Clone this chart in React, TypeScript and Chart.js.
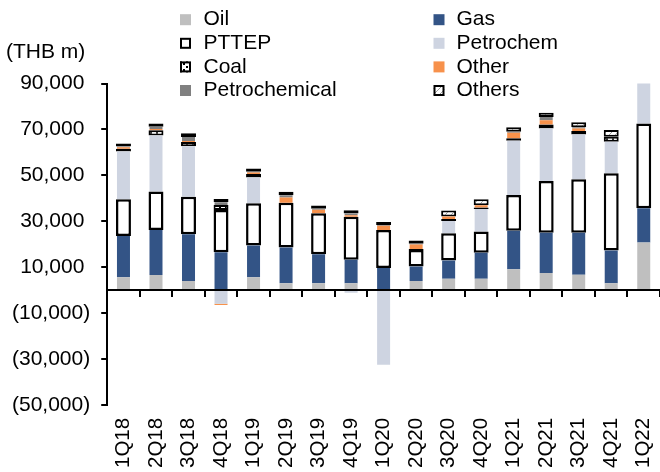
import React, { useEffect, useRef } from "react";
import { Chart, registerables } from "chart.js";

Chart.register(...registerables);

// ---------- data (THB m) ----------
const categories = [
  "1Q18", "2Q18", "3Q18", "4Q18", "1Q19", "2Q19", "3Q19", "4Q19", "1Q20",
  "2Q20", "3Q20", "4Q20", "1Q21", "2Q21", "3Q21", "4Q21", "1Q22",
];
const oil = [5600, 6600, 4000, 0, 5600, 3000, 3000, 3000, 0, 4000, 4900, 4900, 9100, 7400, 6700, 3000, 20700];
const gas = [18000, 19600, 20300, 16500, 13800, 15500, 12600, 10200, 9600, 6300, 8000, 11400, 16800, 17600, 18300, 14200, 15000];
const pttep = [16000, 16700, 16400, 18400, 18400, 19600, 17900, 18800, 16600, 7200, 11900, 9200, 15500, 22500, 23300, 33700, 36900];
const petrochem = [20800, 24500, 22000, -6000, 11200, 0, 0, -1200, -32500, 0, 5300, 9800, 23700, 22900, 19500, 13700, 22000];
const coal = [1200, 2200, 1800, 2200, 1600, 0, 0, 0, 0, 400, 900, 700, 1000, 1700, 1500, 2200, 0];
const other = [600, 600, 500, -500, 600, 2200, 1500, 600, 1800, 2000, 1100, 1000, 2400, 1900, 1100, 0, -300];
const petrochemical = [300, 1000, 1700, 1200, 300, 1000, 400, 800, 300, 300, 0, 0, 500, 1400, 500, 0, 0];
const others = [1400, 1400, 1600, 1400, 1500, 1500, 1500, 1400, 1400, 1400, 2600, 2600, 1900, 1900, 2200, 2900, 0];

const yMin = -50000;
const yMax = 90000;
const yStep = 20000;
const unitLabel = "(THB m)";

const FONT = "'Liberation Sans', Arial, Helvetica, sans-serif";

function makeCoalPattern(): CanvasPattern | string {
  const c = document.createElement("canvas");
  c.width = 6;
  c.height = 6;
  const g = c.getContext("2d");
  if (!g) return "#ffffff";
  g.fillStyle = "#ffffff";
  g.fillRect(0, 0, 6, 6);
  g.fillStyle = "#000000";
  g.fillRect(0, 0, 2, 2);
  g.fillRect(3, 3, 2, 2);
  const p = g.createPattern(c, "repeat");
  return p || "#ffffff";
}

function makeOthersPattern(): CanvasPattern | string {
  const c = document.createElement("canvas");
  c.width = 6;
  c.height = 6;
  const g = c.getContext("2d");
  if (!g) return "#ffffff";
  g.fillStyle = "#ffffff";
  g.fillRect(0, 0, 6, 6);
  g.strokeStyle = "#9a9a9a";
  g.lineWidth = 1;
  g.beginPath();
  g.moveTo(0, 6);
  g.lineTo(6, 0);
  g.stroke();
  const p = g.createPattern(c, "repeat");
  return p || "#ffffff";
}

function fmtNum(v: number): string {
  return Math.abs(v).toLocaleString("en-US");
}

const legendPlugin = {
  id: "customLegend",
  afterDraw(chart: any) {
    const ctx = chart.ctx as CanvasRenderingContext2D;
    ctx.save();
    // unit label
    ctx.font = `21px ${FONT}`;
    ctx.fillStyle = "#000";
    ctx.textAlign = "left";
    ctx.textBaseline = "alphabetic";
    ctx.fillText(unitLabel, 6, 58);

    const colMarkerX = [180, 433.5];
    const colTextX = [203.5, 456.5];
    const rowY0 = 19.7;
    const rowStep = 23.6;
    const size = 11;
    chart.data.datasets.forEach((ds: any, i: number) => {
      const col = i % 2;
      const row = Math.floor(i / 2);
      const cy = rowY0 + row * rowStep;
      const mx = colMarkerX[col];
      const my = cy - size / 2;
      ctx.fillStyle = ds.backgroundColor;
      ctx.fillRect(mx, my, size, size);
      if (ds.borderWidth && ds.borderWidth > 0) {
        ctx.strokeStyle = "#000";
        ctx.lineWidth = 2;
        ctx.strokeRect(mx + 1, my + 1, size - 2, size - 2);
      }
      ctx.fillStyle = "#000";
      ctx.font = `21px ${FONT}`;
      ctx.textAlign = "left";
      ctx.textBaseline = "middle";
      ctx.fillText(ds.label, colTextX[col], cy);
    });
    ctx.restore();
  },
};

export default function App() {
  const ref = useRef<HTMLCanvasElement | null>(null);

  useEffect(() => {
    const canvas = ref.current;
    if (!canvas) return;
    const coalPat = makeCoalPattern();
    const othersPat = makeOthersPattern();
    const fillBar = { barPercentage: 0.4, categoryPercentage: 1, borderWidth: 0 };
    const boxBar = {
      barPercentage: 0.46,
      categoryPercentage: 1,
      borderColor: "#000000",
      borderWidth: 2.5,
      borderSkipped: false as const,
    };
    const chart = new Chart(canvas, {
      type: "bar",
      data: {
        labels: categories,
        datasets: [
          { label: "Oil", data: oil, backgroundColor: "#BFBFBF", ...fillBar },
          { label: "Gas", data: gas, backgroundColor: "#335486", ...fillBar },
          { label: "PTTEP", data: pttep, backgroundColor: "#FFFFFF", ...boxBar },
          { label: "Petrochem", data: petrochem, backgroundColor: "#CED4E1", ...fillBar },
          { label: "Coal", data: coal, backgroundColor: coalPat as any, ...boxBar, borderWidth: 2 },
          { label: "Other", data: other, backgroundColor: "#F7914B", ...fillBar },
          { label: "Petrochemical", data: petrochemical, backgroundColor: "#808080", ...fillBar },
          { label: "Others", data: others, backgroundColor: othersPat as any, ...boxBar, borderWidth: 2 },
        ],
      },
      options: {
        responsive: false,
        animation: false,
        devicePixelRatio: 1,
        layout: { padding: { top: 83.5, left: 1, right: 0, bottom: 4 } },
        plugins: {
          legend: { display: false },
          title: { display: false },
          tooltip: { enabled: false },
        },
        scales: {
          x: {
            type: "category",
            stacked: true,
            position: "bottom",
            grid: { display: false, drawTicks: true, tickLength: 13 },
            border: { display: false },
            ticks: {
              autoSkip: false,
              minRotation: 90,
              maxRotation: 90,
              padding: 0,
              color: "#000",
              font: { family: FONT, size: 20.5, lineHeight: 0.7 },
            },
          },
          xZero: {
            type: "category",
            axis: "x",
            labels: categories,
            position: { y: 0 },
            grid: {
              display: true,
              offset: true,
              drawOnChartArea: false,
              drawTicks: true,
              tickLength: 6,
              color: "#000",
              lineWidth: 2,
              z: 1,
            },
            border: { display: true, color: "#000", width: 2, z: 1 },
            ticks: { display: false },
          },
          y: {
            type: "linear",
            stacked: true,
            position: "left",
            min: yMin,
            max: yMax,
            ticks: {
              stepSize: yStep,
              padding: 11,
              color: "#000",
              font: { family: FONT, size: 21 },
              callback: (v: any) => {
                const n = Number(v);
                return n < 0 ? `(${fmtNum(n)})` : `${fmtNum(n)} `;
              },
            },
            grid: {
              drawOnChartArea: false,
              drawTicks: true,
              tickLength: 6,
              color: "#000",
              lineWidth: 2,
              z: 1,
            },
            border: { display: true, color: "#000", width: 2, z: 1 },
          },
        } as any,
      },
      plugins: [legendPlugin],
    });
    return () => chart.destroy();
  }, []);

  return (
    <div style={{ position: "absolute", left: 0, top: 0, width: 660, height: 472, background: "#fff" }}>
      <canvas ref={ref} width={660} height={472} style={{ display: "block", width: 660, height: 472 }} />
    </div>
  );
}
